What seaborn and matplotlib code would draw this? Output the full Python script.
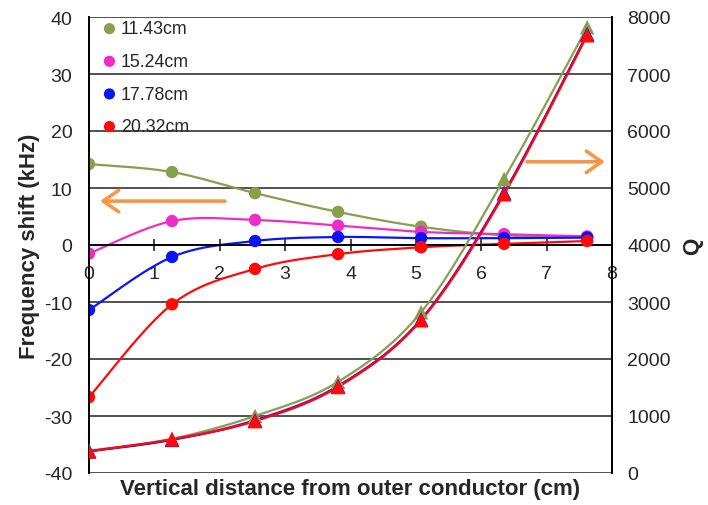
import numpy as np
import pandas as pd
import matplotlib
matplotlib.use("Agg")
import matplotlib.pyplot as plt
import seaborn as sns

# distances (cm) from outer conductor
distance = [0, 1.27, 2.54, 3.81, 5.08, 6.35, 7.62]
series_labels = ["11.43cm", "15.24cm", "17.78cm", "20.32cm"]
series_colors = ["#86A04C", "#F02CC8", "#0A14F5", "#FF0A0A"]

# frequency shift (kHz), left axis
shift_1143 = [14.2, 12.8, 9.1, 5.8, 3.2, 1.7, 1.4]
shift_1524 = [-1.5, 4.2, 4.4, 3.4, 2.3, 1.9, 1.5]
shift_1778 = [-11.4, -2.1, 0.7, 1.4, 1.2, 1.2, 1.3]
shift_2032 = [-26.7, -10.4, -4.2, -1.6, -0.4, 0.2, 0.7]

# quality factor Q, right axis
q_1143 = [390, 600, 1000, 1600, 2820, 5160, 7820]
q_1524 = [385, 590, 930, 1530, 2700, 4920, 7700]
q_1778 = [380, 580, 920, 1520, 2690, 4910, 7700]
q_2032 = [380, 590, 910, 1510, 2680, 4890, 7680]

shifts = [shift_1143, shift_1524, shift_1778, shift_2032]
qs = [q_1143, q_1524, q_1778, q_2032]


def smooth(x, y, n=40):
    # catmull-rom curve through the points, like excel's smoothed line
    p = np.column_stack([x, y]).astype(float)
    p = np.vstack([p[0], p, p[-1]])
    out = []
    t = np.linspace(0, 1, n)[:, None]
    for i in range(1, len(p) - 2):
        p0, p1, p2, p3 = p[i - 1], p[i], p[i + 1], p[i + 2]
        seg = 0.5 * (2 * p1 + (-p0 + p2) * t + (2 * p0 - 5 * p1 + 4 * p2 - p3) * t ** 2
                     + (-p0 + 3 * p1 - 3 * p2 + p3) * t ** 3)
        out.append(seg)
    c = np.vstack(out)
    return pd.DataFrame({"x": c[:, 0], "y": c[:, 1]})


sns.set_style("white")
plt.rcParams["font.family"] = ["Liberation Sans", "DejaVu Sans"]
plt.rcParams["axes.unicode_minus"] = False

fig = plt.figure(figsize=(7.08, 5.06), dpi=100)
ax = fig.add_axes([89 / 708, 32 / 506, 523 / 708, 456 / 506])
ax2 = ax.twinx()

for lab, col, ys in zip(series_labels, series_colors, shifts):
    sns.lineplot(data=smooth(distance, ys), x="x", y="y", sort=False, estimator=None,
                 color=col, lw=1.6, ax=ax)
    sns.scatterplot(x=distance, y=ys, color=col, s=80, edgecolor="none", label=lab, ax=ax, zorder=3)

for col, ys in zip(series_colors, qs):
    sns.lineplot(data=smooth(distance, ys), x="x", y="y", sort=False, estimator=None,
                 color=col, lw=1.6, ax=ax2)
    sns.scatterplot(x=distance, y=ys, color=col, s=110, marker="^", edgecolor="none", ax=ax2, zorder=3)

ax.set_xlim(0, 8)
ax.set_ylim(-40, 40)
ax.set_yticks(range(-40, 41, 10))
ax.set_xticks(range(0, 9))
ax2.set_ylim(0, 8000)
ax2.set_yticks(range(0, 8001, 1000))

ax.yaxis.grid(True, color="#333333", lw=1.2)
ax.set_axisbelow(True)

ax.spines["bottom"].set_position(("data", 0))
ax.spines["top"].set_visible(False)
ax2.spines["top"].set_visible(False)
ax2.spines["bottom"].set_visible(False)
for a in (ax, ax2):
    for s in a.spines.values():
        s.set_color("black")
        s.set_linewidth(1.3)

ax.tick_params(axis="x", direction="inout", length=9, width=1.2, pad=10, labelsize=14, bottom=True)
ax.tick_params(axis="y", length=0, pad=12, labelsize=14)
ax2.tick_params(axis="y", length=0, pad=11, labelsize=14)

ax.set_xlabel("")
ax.set_ylabel("Frequency shift (kHz)", fontsize=16, fontweight="bold", labelpad=3)
ax2.set_xlabel("")
ax2.set_ylabel("Q", fontsize=16, fontweight="bold", labelpad=8)
fig.text(350 / 708, 1 - 490 / 506, "Vertical distance from outer conductor (cm)",
         ha="center", va="center", fontsize=16, fontweight="bold")

arrow = dict(arrowstyle="->,head_length=0.5,head_width=0.35", color="#F79646", lw=2.6,
             mutation_scale=22, shrinkA=0, shrinkB=0)
ax.annotate("", xy=(0.17, 7.7), xytext=(2.08, 7.7), arrowprops=arrow)
ax.annotate("", xy=(7.89, 14.6), xytext=(6.70, 14.6), arrowprops=arrow)

leg = ax.legend(loc="upper left", bbox_to_anchor=(0.0, 1.02), frameon=False, fontsize=12.8,
                handlelength=0.9, handletextpad=0.2, labelspacing=0.88, borderaxespad=0.3,
                markerscale=0.9)
leg.set_zorder(5)

fig.savefig("out.png", dpi=100)
